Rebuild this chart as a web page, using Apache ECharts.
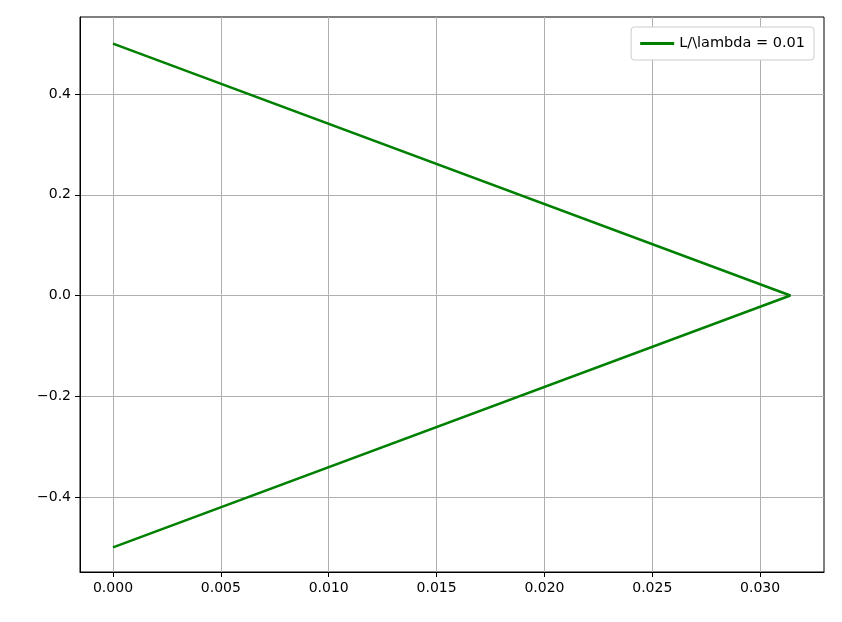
<!DOCTYPE html>
<html><head><meta charset="utf-8">
<script src="https://cdn.jsdelivr.net/npm/echarts@6/dist/echarts.min.js"></script>
<style>html,body{margin:0;padding:0;background:#fff}#c{width:842px;height:622px}</style>
</head><body><div id="c"></div>
<script>
const seriesName = 'L/\\lambda = 0.01';
const xValues = [0, 0.0314, 0];
const yValues = [0.5, 0, -0.5];
const xTicks = [0, 0.005, 0.01, 0.015, 0.02, 0.025, 0.03];
const yTicks = [-0.4, -0.2, 0, 0.2, 0.4];
const fmtX = v => v.toFixed(3);
const fmtY = v => (v < 0 ? '\u2212' : '') + Math.abs(v).toFixed(1);
const chart = echarts.init(document.getElementById('c'));
const axisCommon = {
  axisLine: {show: true, onZero: false, lineStyle: {color: '#000', width: 1}},
  axisTick: {show: true, length: 5, lineStyle: {color: '#000'}},
  splitLine: {show: true, lineStyle: {color: '#b0b0b0', width: 1}},
  axisLabel: {color: '#000', fontSize: 14, fontFamily: 'DejaVu Sans'}
};
chart.setOption({
  animation: false,
  grid: {left: 80, right: 18, top: 17, bottom: 50, show: true, borderColor: '#000', borderWidth: 1},
  legend: {
    show: true, right: 28, top: 27, orient: 'vertical',
    backgroundColor: '#fff', borderColor: '#ccc', borderWidth: 1, borderRadius: 3, padding: [9, 9],
    itemWidth: 34, itemHeight: 3, icon: 'rect', itemGap: 8,
    textStyle: {fontSize: 14.5, fontFamily: 'DejaVu Sans', color: '#000'},
    data: [seriesName]
  },
  xAxis: {
    type: 'value', min: -0.00153, max: 0.03296,
    ...axisCommon,
    axisTick: {...axisCommon.axisTick, customValues: xTicks},
    axisLabel: {...axisCommon.axisLabel, customValues: xTicks, formatter: fmtX, margin: 9}
  },
  yAxis: {
    type: 'value', min: -0.549, max: 0.553,
    ...axisCommon,
    axisTick: {...axisCommon.axisTick, customValues: yTicks},
    axisLabel: {...axisCommon.axisLabel, customValues: yTicks, formatter: fmtY, margin: 9}
  },
  series: [{
    name: seriesName, type: 'line', symbol: 'none',
    lineStyle: {color: '#008000', width: 2.5}, itemStyle: {color: '#008000'},
    data: xValues.map((x, i) => [x, yValues[i]])
  }]
});
</script></body></html>
